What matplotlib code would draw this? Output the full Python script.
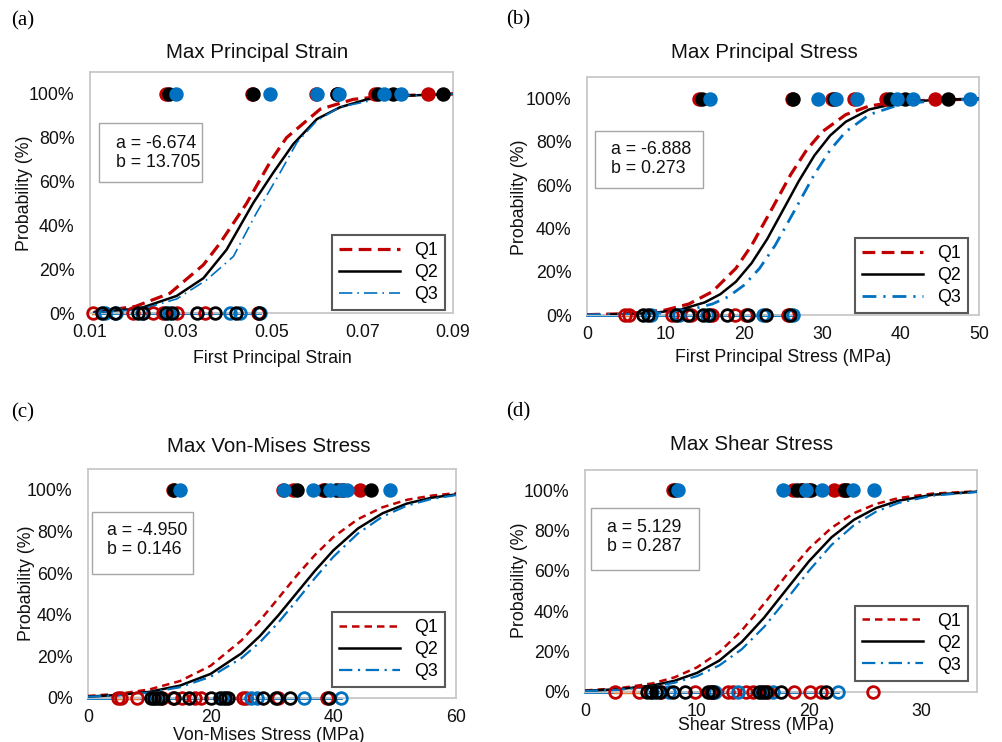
import matplotlib
matplotlib.use("Agg")
import matplotlib.pyplot as plt
from matplotlib.patches import Rectangle
from matplotlib.ticker import FuncFormatter

plt.rcParams['font.family'] = ['Liberation Sans', 'DejaVu Sans']

RED = '#C00000'
BLUE = '#0070C0'
BLACK = '#000000'
W, H = 1003, 742

# ---- (a) Max Principal Strain ----
a_q1_x = [0.011, 0.020, 0.0276, 0.035, 0.0387, 0.0445, 0.050, 0.0533, 0.0607, 0.068, 0.075, 0.09]
a_q1_p = [0.005, 0.03, 0.09, 0.22, 0.32, 0.50, 0.70, 0.80, 0.93, 0.975, 0.99, 1.0]
a_q2_x = [0.011, 0.021, 0.0291, 0.035, 0.0401, 0.046, 0.0504, 0.0548, 0.060, 0.0651, 0.071, 0.0768, 0.09]
a_q2_p = [0.003, 0.021, 0.078, 0.159, 0.289, 0.503, 0.641, 0.771, 0.885, 0.939, 0.975, 0.99, 1.0]
a_q3_x = [0.011, 0.021, 0.0291, 0.0357, 0.0416, 0.0467, 0.0519, 0.0556, 0.060, 0.0651, 0.0768, 0.09]
a_q3_p = [0.002, 0.015, 0.064, 0.151, 0.258, 0.457, 0.641, 0.778, 0.878, 0.94, 0.99, 1.0]
a_fail_q1 = [0.0268, 0.0457, 0.0598, 0.0644, 0.0728, 0.0845]
a_fail_q2 = [0.0275, 0.0459, 0.0644, 0.0734, 0.0768, 0.0878]
a_fail_q3 = [0.0290, 0.0497, 0.0600, 0.0649, 0.0748, 0.0785]
a_open_q1 = [0.0107, 0.0195, 0.0239, 0.0261, 0.0291, 0.0353, 0.0470]
a_open_q2 = [0.0126, 0.0155, 0.0206, 0.0217, 0.0268, 0.0280, 0.0335, 0.0375, 0.0422, 0.0472]
a_open_q3 = [0.0133, 0.0158, 0.0215, 0.0275, 0.0409, 0.0430, 0.0475]

# ---- (b) Max Principal Stress ----
b_q1_x = [0, 5, 10, 13, 16, 19, 21, 23.7, 26, 28, 30, 33, 36, 40, 50]
b_q1_p = [0.0015, 0.006, 0.023, 0.051, 0.108, 0.216, 0.322, 0.498, 0.650, 0.762, 0.847, 0.926, 0.966, 0.988, 0.999]
b_q2_x = [3, 6, 9, 12, 15, 17, 19, 21, 23, 25.2, 27, 29, 31, 33, 36, 40, 45, 50]
b_q2_p = [0.0023, 0.0052, 0.0118, 0.026, 0.058, 0.096, 0.154, 0.240, 0.352, 0.498, 0.618, 0.737, 0.829, 0.893, 0.950, 0.983, 0.9955, 0.9988]
b_q3_x = [0, 5, 10, 13, 16, 18, 20, 22, 24, 26.8, 29, 31, 33, 36, 40, 45, 50]
b_q3_p = [0.0007, 0.0026, 0.0103, 0.023, 0.051, 0.084, 0.137, 0.215, 0.322, 0.504, 0.65, 0.762, 0.847, 0.926, 0.974, 0.993, 0.998]
b_fail_q1 = [14.3, 26.1, 31.3, 34.1, 38.2, 44.4]
b_fail_q2 = [14.7, 26.3, 31.5, 38.7, 40.6, 46.1]
b_fail_q3 = [15.7, 29.5, 31.7, 34.5, 39.6, 41.6, 48.9]
b_open_q1 = [4.9, 5.4, 10.8, 13.3, 16.0, 18.9, 20.3, 25.6]
b_open_q2 = [7.1, 7.8, 11.4, 12.9, 14.8, 15.6, 17.8, 20.5, 22.8, 25.9]
b_open_q3 = [8.2, 11.7, 15.3, 22.5, 26.3]

# ---- (c) Max Von-Mises Stress ----
c_x = [0, 5, 10, 15, 20, 25, 28, 31, 34, 37, 40, 44, 48, 52, 56, 60]
c_q1_p = [0.0098, 0.0202, 0.041, 0.0814, 0.155, 0.276, 0.371, 0.478, 0.587, 0.687, 0.773, 0.859, 0.916, 0.952, 0.972, 0.984]
c_q2_p = [0.0070, 0.0145, 0.0296, 0.0595, 0.116, 0.214, 0.297, 0.396, 0.5035, 0.611, 0.709, 0.814, 0.887, 0.934, 0.962, 0.978]
c_q3_p = [0.0061, 0.0125, 0.0257, 0.0518, 0.102, 0.191, 0.267, 0.361, 0.467, 0.576, 0.678, 0.790, 0.871, 0.924, 0.956, 0.975]
c_fail_q1 = [13.8, 31.8, 33.5, 38.3, 41.0, 44.3]
c_fail_q2 = [14.1, 34.1, 38.7, 40.4, 41.5, 46.2]
c_fail_q3 = [15.0, 32.0, 36.7, 39.4, 41.3, 42.2, 49.2]
c_open_q1 = [4.9, 5.4, 8.0, 12.0, 13.9, 15.4, 17.5, 18.5, 25.2, 25.8, 30.9, 39.0]
c_open_q2 = [10.3, 10.8, 11.4, 11.9, 14.1, 16.5, 20.0, 21.6, 22.3, 22.8, 28.5, 30.7, 33.0, 39.3]
c_open_q3 = [11.0, 22.0, 26.5, 27.5, 35.2, 41.2]

# ---- (d) Max Shear Stress ----
d_x = [0, 3, 6, 8, 10, 12, 14, 16, 18, 20, 22, 24, 26, 28, 31, 35]
d_q1_p = [0.0078, 0.0183, 0.0423, 0.0727, 0.122, 0.198, 0.305, 0.438, 0.580, 0.711, 0.813, 0.886, 0.932, 0.961, 0.983, 0.9945]
d_q2_p = [0.0059, 0.0138, 0.0321, 0.0556, 0.0946, 0.156, 0.248, 0.369, 0.509, 0.648, 0.766, 0.853, 0.912, 0.948, 0.977, 0.9927]
d_q3_p = [0.0048, 0.0113, 0.0264, 0.046, 0.0787, 0.132, 0.212, 0.323, 0.459, 0.601, 0.728, 0.826, 0.894, 0.937, 0.973, 0.991]
d_fail_q1 = [7.9, 18.6, 19.3, 20.0, 22.2, 23.0]
d_fail_q2 = [8.0, 18.9, 19.4, 20.2, 23.2, 23.4]
d_fail_q3 = [8.3, 17.7, 19.7, 21.2, 23.9, 25.8]
d_open_q1 = [2.7, 4.8, 6.8, 9.8, 11.2, 12.8, 13.2, 14.4, 15.0, 16.3, 18.7, 20.1, 21.1, 25.7]
d_open_q2 = [5.5, 5.9, 6.3, 6.7, 7.9, 8.9, 11.0, 11.3, 11.45, 15.5, 15.9, 16.2, 17.5, 21.5]
d_open_q3 = [6.0, 7.5, 11.6, 13.7, 15.7, 16.8, 22.6]

panel_tags = ['(a)', '(b)', '(c)', '(d)']
titles = ['Max Principal Strain', 'Max Principal Stress', 'Max Von-Mises Stress', 'Max Shear Stress']
xlabels = ['First Principal Strain', 'First Principal Stress (MPa)', 'Von-Mises Stress (MPa)', 'Shear Stress (MPa)']
fit_a = ['-6.674', '-6.888', '-4.950', '5.129']
fit_b = ['13.705', '0.273', '0.146', '0.287']
xlims = [(0.01, 0.09), (0, 50), (0, 60), (0, 35)]
xticks = [[0.01, 0.03, 0.05, 0.07, 0.09], [0, 10, 20, 30, 40, 50], [0, 20, 40, 60], [0, 10, 20, 30]]
orange_stop = [0.0115, 5.6, 8.2, 5.0]
yticks = [0, 0.2, 0.4, 0.6, 0.8, 1.0]

curves = [
    [(a_q1_x, a_q1_p), (a_q2_x, a_q2_p), (a_q3_x, a_q3_p)],
    [(b_q1_x, b_q1_p), (b_q2_x, b_q2_p), (b_q3_x, b_q3_p)],
    [(c_x, c_q1_p), (c_x, c_q2_p), (c_x, c_q3_p)],
    [(d_x, d_q1_p), (d_x, d_q2_p), (d_x, d_q3_p)],
]
fails = [[a_fail_q1, a_fail_q2, a_fail_q3], [b_fail_q1, b_fail_q2, b_fail_q3],
         [c_fail_q1, c_fail_q2, c_fail_q3], [d_fail_q1, d_fail_q2, d_fail_q3]]
opens = [[a_open_q1, a_open_q2, a_open_q3], [b_open_q1, b_open_q2, b_open_q3],
         [c_open_q1, c_open_q2, c_open_q3], [d_open_q1, d_open_q2, d_open_q3]]

# layout in pixels (left, right, top, bottom)
boxes = [(90, 453, 72, 313), (587, 979, 77, 315), (88, 456, 469, 698), (585, 977, 470, 692)]
tag_pos = [(23, 21), (518, 20), (23, 413), (518, 412)]
title_pos = [(257, 53), (764, 53), (269, 446), (752, 445)]
xlab_pos = [(272, 359), (783, 357), (269, 736), (756, 725)]
ylab_pos = [(25, 193), (520, 197), (27, 583), (520, 580)]
fitbox = [(99, 123, 202, 182), (595, 131, 703, 188), (92, 512, 193, 574), (591, 508, 699, 570)]
fittext = [(116, 153), (611, 159), (107, 540), (607, 537)]
leg_anchor = [(0.978, 0.012), (0.972, 0.008), (0.970, 0.047), (0.977, 0.051)]

# line styles per panel: (Q1 dashes, Q1 lw, Q3 dashes, Q3 lw)
styles = [((4, 2), 2.3, (8, 3, 1, 3), 1.2),
          ((4, 2), 2.3, (5, 2.5, 0.8, 2.5), 2.0),
          ((3, 2), 1.8, (6, 2.5, 1, 2.5), 1.6),
          ((3, 2), 1.8, (6, 2.5, 1, 2.5), 1.6)]


def fx(x):
    return x / W


def fy(y):
    return 1 - y / H


fig = plt.figure(figsize=(W / 100, H / 100), dpi=100)
fig.patch.set_facecolor('white')

for i in range(4):
    l, r, t, b = boxes[i]
    ax = fig.add_axes([fx(l), fy(b), (r - l) / W, (b - t) / H])
    ax.set_xlim(*xlims[i])
    ax.set_ylim(0, 1.1)
    for s in ax.spines.values():
        s.set_color('#C8C8C8')
        s.set_linewidth(1.3)
    ax.set_xticks(xticks[i])
    ax.set_yticks(yticks)
    ax.yaxis.set_major_formatter(FuncFormatter(lambda v, p: f'{v:.0%}'))
    if i == 0:
        ax.xaxis.set_major_formatter(FuncFormatter(lambda v, p: f'{v:.2f}'))
    ax.tick_params(length=0, labelsize=12.8, colors='#111111')
    ax.tick_params(axis='y', pad=11)
    ax.tick_params(axis='x', pad=8)

    q1d, q1w, q3d, q3w = styles[i]
    (x1, p1), (x2, p2), (x3, p3) = curves[i]
    # baseline through the non-failure points
    x0 = ax.get_xlim()[0] if i > 0 else min(opens[i][0])
    ax.plot([x0, max(opens[i][2])], [0, 0], color=BLUE, lw=2, zorder=2, clip_on=False)
    ax.plot([min(opens[i][0]), orange_stop[i]], [0, 0], color='#ED7D31', lw=2.5, zorder=2.1, clip_on=False)

    h1, = ax.plot(x1, p1, color=RED, lw=q1w, dashes=q1d, zorder=3, label='Q1')
    h2, = ax.plot(x2, p2, color=BLACK, lw=1.8, zorder=3.1, label='Q2')
    h3, = ax.plot(x3, p3, color=BLUE, lw=q3w, dashes=q3d, zorder=3.2, label='Q3')

    # failures (filled, at 100%) and non-failures (open, at 0%)
    for vals, c, z in zip(fails[i], [RED, BLACK, BLUE], [4, 4.1, 4.2]):
        ax.plot(vals, [1.0] * len(vals), 'o', ms=9.4, color=c, mec=c, zorder=z, clip_on=False)
    for vals, c, z in zip([opens[i][0], opens[i][2], opens[i][1]], [RED, BLUE, BLACK], [5, 5.1, 5.2]):
        ax.plot(vals, [0.0] * len(vals), 'o', ms=8.4, mfc='none', mec=c, mew=2.0, zorder=z, clip_on=False)

    leg = ax.legend(handles=[h1, h2, h3], loc='lower right', bbox_to_anchor=leg_anchor[i],
                    borderaxespad=0, fontsize=12.8, handlelength=3.4, handletextpad=0.8,
                    labelspacing=0.28, borderpad=0.4, fancybox=False, framealpha=1)
    leg.get_frame().set_edgecolor('#595959')
    leg.get_frame().set_linewidth(1.5)
    leg.set_zorder(10)

    # fit parameter box
    bx0, by0, bx1, by1 = fitbox[i]
    fig.patches.append(Rectangle((fx(bx0), fy(by1)), (bx1 - bx0) / W, (by1 - by0) / H,
                                 transform=fig.transFigure, fill=True, facecolor='white',
                                 edgecolor='#A6A6A6', lw=1.0, zorder=20))
    fig.text(fx(fittext[i][0]), fy(fittext[i][1]), f'a = {fit_a[i]}\nb = {fit_b[i]}',
             ha='left', va='center', fontsize=12.8, linespacing=1.12, color='#111111', zorder=21)

    fig.text(fx(tag_pos[i][0]), fy(tag_pos[i][1]), panel_tags[i], ha='center', va='center',
             fontsize=15, family='Liberation Serif')
    fig.text(fx(title_pos[i][0]), fy(title_pos[i][1]), titles[i], ha='center', va='center',
             fontsize=14.8, color='#111111')
    fig.text(fx(xlab_pos[i][0]), fy(xlab_pos[i][1]), xlabels[i], ha='center', va='center',
             fontsize=12.8, color='#111111')
    fig.text(fx(ylab_pos[i][0]), fy(ylab_pos[i][1]), 'Probability (%)', ha='center', va='center',
             rotation=90, fontsize=12.8, color='#111111')

fig.savefig('out.png', dpi=100)
